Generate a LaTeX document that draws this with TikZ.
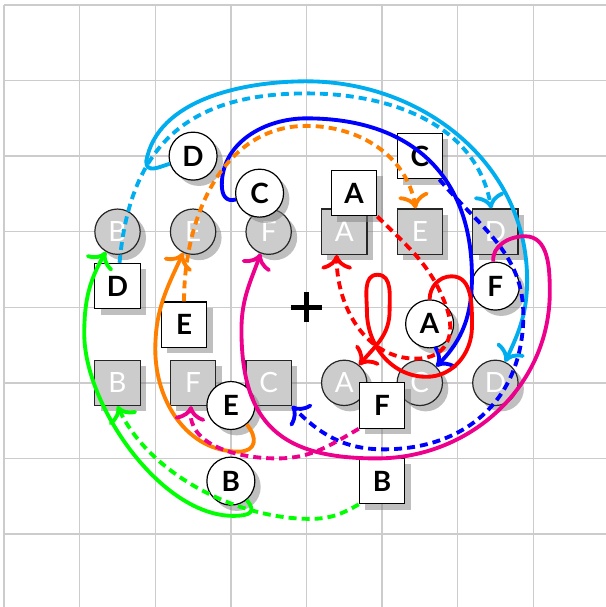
\documentclass[tikz,border=0pt]{standalone}
\usepackage{fontspec}
\setmainfont{Lato}
\usetikzlibrary{shadows,arrows.meta}
\definecolor{ccyan}{HTML}{00AEEF}
\definecolor{cmag}{HTML}{EC008C}
\definecolor{corange}{HTML}{FF8000}
\definecolor{cgreen}{HTML}{00FF00}
\definecolor{cblue}{HTML}{0000FF}
\definecolor{cred}{HTML}{FF0000}
\tikzset{
  gridline/.style={draw=black!20, line width=0.5pt},
  shad/.style={drop shadow={shadow xshift=2.2pt, shadow yshift=-2.2pt}},
  graybase/.style={draw=black!85, line width=0.45pt, fill=black!20, text=white,
    inner sep=0pt, shad, font=\fontsize{10.5}{11}\selectfont},
  graycirc/.style={graybase, circle, minimum size=0.6cm},
  graysq/.style={graybase, rectangle, minimum size=0.6cm},
  whitebase/.style={draw=black, line width=0.45pt, fill=white, text=black,
    inner sep=0pt, shad, font=\fontsize{10.5}{11}\selectfont\bfseries},
  whitecirc/.style={whitebase, circle, minimum size=0.635cm},
  whitesq/.style={whitebase, rectangle, minimum size=0.6cm},
  conn/.style={line width=1.45pt, -{To[scale=1.15]}},
  dsh/.style={dash pattern=on 3pt off 1.9pt},
}
\begin{document}
\begin{tikzpicture}
\useasboundingbox (-4.055,-3.966) rectangle (3.961,4.066);
\clip (-4.055,-3.966) rectangle (3.961,4.066);
\draw[gridline] (-4,-4) grid (4,4);

% gray nodes
\node[graycirc] (gBc) at (-2.5,1) {B};
\node[graycirc] (gEc) at (-1.5,1) {E};
\node[graycirc] (gFc) at (-0.5,1) {F};
\node[graysq] (gAs) at (0.5,1) {A};
\node[graysq] (gEs) at (1.5,1) {E};
\node[graysq] (gDs) at (2.5,1) {D};
\node[graysq] (gBs) at (-2.5,-1) {B};
\node[graysq] (gFs) at (-1.5,-1) {F};
\node[graysq] (gCs) at (-0.5,-1) {C};
\node[graycirc] (gAc) at (0.5,-1) {A};
\node[graycirc] (gCc) at (1.5,-1) {C};
\node[graycirc] (gDc) at (2.5,-1) {D};

% white nodes
\node[whitecirc] (wDc) at (-1.5,2) {D};
\node[whitecirc] (wCc) at (-0.62,1.51) {C};
\node[whitesq] (wAs) at (0.63,1.51) {A};
\node[whitesq] (wCs) at (1.5,2) {C};
\node[whitecirc] (wFc) at (2.5,0.28) {F};
\node[whitecirc] (wAc) at (1.63,-0.22) {A};
\node[whitesq] (wDs) at (-2.5,0.28) {D};
\node[whitesq] (wEs) at (-1.62,-0.23) {E};
\node[whitecirc] (wEc) at (-1,-1.3) {E};
\node[whitesq] (wFs) at (1,-1.3) {F};
\node[whitecirc] (wBc) at (-1,-2.3) {B};
\node[whitesq] (wBs) at (1,-2.3) {B};

% origin mark
\coordinate (o) at (0,0);
\draw[line width=1.8pt] ([xshift=-0.2cm]o) -- ([xshift=0.2cm]o);
\draw[line width=1.8pt] ([yshift=-0.2cm]o) -- ([yshift=0.2cm]o);

% cyan
\draw[conn, ccyan] (wDc) to[out=198,in=270,looseness=1.3] (-2.12,1.93)
  to[out=80,in=180,looseness=0.9] (0,2.99) to[out=0,in=90] (2.92,0.36)
  to[out=-90,in=65] (gDc);
\draw[conn, dsh, ccyan] (wDs) to[out=85,in=180,looseness=1.2] (0,2.83)
  to[out=0,in=100] (gDs);
% blue
\draw[conn, cblue] (wCc) to[out=195,in=270,looseness=1.3] (-1.12,1.62)
  to[out=90,in=180] (0,2.5) to[out=0,in=90,looseness=1.15] (2.19,0.4)
  to[out=-90,in=45] (gCc);
\draw[conn, dsh, cblue] (wCs) to[out=-50,in=90] (2.87,-0.1)
  to[out=-90,in=0,looseness=1.1] (1.02,-1.88) to[out=180,in=-45] (gCs);
% orange
\draw[conn, dsh, corange] (wEs) to[out=90,in=180] (0,2.40) to[out=0,in=100] (gEs);
\draw[conn, corange] (wEc) to[out=-50,in=0,looseness=1.6] (-0.9,-1.91)
  to[out=180,in=270] (-2.0,-0.56) to[out=90,in=245] (gEc);
% red
\draw[conn, dsh, cred] (wAs) to[out=-45,in=110] (1.85,0.01)
  to[out=-70,in=0,looseness=1.3] (1.45,-0.68)
  to[out=180,in=-90] ([xshift=-0.1cm]gAs.south);
\draw[conn, cred] (wAc) to[out=90,in=180] (1.92,0.41) to[out=0,in=90] (2.19,-0.26)
  to[out=-90,in=0] (1.59,-0.92) to[out=180,in=-90] (0.80,-0.05)
  to[out=90,in=180] (0.94,0.43) to[out=0,in=90] (1.10,-0.05)
  to[out=-90,in=50] (gAc);
% magenta
\draw[conn, cmag] (wFc) to[out=95,in=180] (2.89,0.94) to[out=0,in=90] (3.22,0.2)
  to[out=-90,in=0] (0.93,-2.0) to[out=180,in=-90,looseness=1.3] (-0.86,-0.3)
  to[out=90,in=250] (gFc);
\draw[conn, dsh, cmag] (wFs.south west) to[out=-150,in=0] (-0.39,-2.0)
  to[out=180,in=-95] (gFs);
% green
\draw[conn, cgreen] (wBc) to[out=-50,in=0,looseness=2] (-0.97,-2.76)
  to[out=180,in=270,looseness=0.78] (-2.94,-0.35)
  to[out=90,in=240] (gBc);
\draw[conn, dsh, cgreen] (wBs.south west) to[out=-150,in=0] (0.05,-2.8)
  to[out=180,in=-65,looseness=0.85] (gBs.south);
\end{tikzpicture}
\end{document}
